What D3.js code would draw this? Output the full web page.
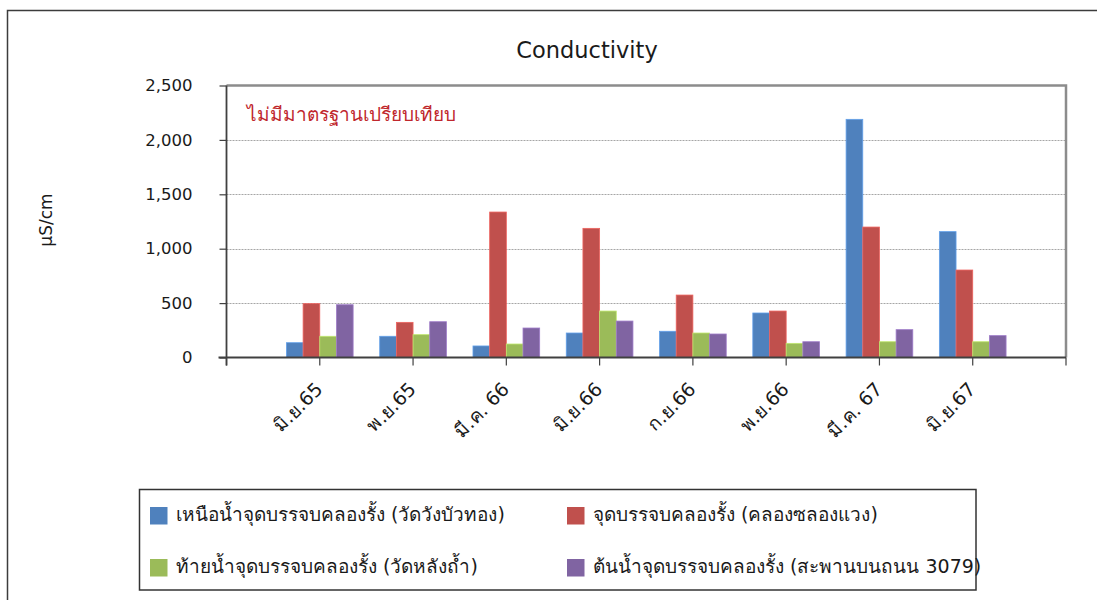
<!DOCTYPE html>
<html>
<head>
<meta charset="utf-8">
<script src="https://cdn.jsdelivr.net/npm/d3@7/dist/d3.min.js"></script>
<style>
  html, body { margin: 0; padding: 0; background: #fff; }
  svg { display: block; }
  text { font-family: "DejaVu Sans", "Noto Sans", sans-serif; fill: #1a1a1a; }
</style>
</head>
<body>
<svg id="chart" width="1097" height="600"></svg>
<script>
// Sampling rounds along คลองรั้ง
const months = ["มิ.ย.65", "พ.ย.65", "มี.ค. 66", "มิ.ย.66", "ก.ย.66", "พ.ย.66", "มี.ค. 67", "มิ.ย.67"];

// Conductivity (µS/cm) at each station
const upstreamWatWangBuaThong = [136, 195, 106, 225, 241, 409, 2189, 1157];
const confluenceKhlongSaLongWaeng = [495, 323, 1337, 1187, 574, 427, 1199, 804];
const downstreamWatLangTham = [195, 210, 124, 427, 225, 130, 145, 145];
const headwaterBridge3079 = [485, 329, 271, 335, 216, 145, 256, 201];

const seriesNames = [
  "เหนือน้ำจุดบรรจบคลองรั้ง (วัดวังบัวทอง)",
  "จุดบรรจบคลองรั้ง (คลองซลองแวง)",
  "ท้ายน้ำจุดบรรจบคลองรั้ง (วัดหลังถ้ำ)",
  "ต้นน้ำจุดบรรจบคลองรั้ง (สะพานบนถนน 3079)"
];
const seriesColors = ["#4F81BD", "#C0504D", "#9BBB59", "#8064A2"];
const yTicks = [0, 500, 1000, 1500, 2000, 2500];

const series = seriesNames.map((name, i) => ({
  name,
  color: seriesColors[i],
  values: [upstreamWatWangBuaThong, confluenceKhlongSaLongWaeng, downstreamWatLangTham, headwaterBridge3079][i]
}));

const svg = d3.select("#chart");

// outer frame (top and left edges)
svg.append("path")
  .attr("d", "M7.5,600 V10.5 H1097")
  .attr("fill", "none").attr("stroke", "#3c3c3c").attr("stroke-width", 1.5);

const plot = { left: 226.5, right: 1066, top: 85.5, bottom: 357.5 };

const x = d3.scalePoint().domain(months).range([plot.left, plot.right]).padding(1);
const groupWidth = x.step() * 0.715;
const inner = d3.scaleBand().domain(d3.range(series.length)).range([-groupWidth / 2, groupWidth / 2]);
const y = d3.scaleLinear().domain([0, 2500]).range([plot.bottom, plot.top]);

// dotted gridlines
svg.append("g").selectAll("line")
  .data(yTicks.filter(t => t > 0 && t < 2500))
  .join("line")
  .attr("x1", plot.left).attr("x2", plot.right)
  .attr("y1", d => Math.round(y(d)) + 0.5).attr("y2", d => Math.round(y(d)) + 0.5)
  .attr("stroke", "#a6a6a6").attr("stroke-width", 1).attr("stroke-dasharray", "2,1");

// plot-area border (top and right)
svg.append("path")
  .attr("d", `M${plot.left},${plot.top} H${plot.right} V${plot.bottom}`)
  .attr("fill", "none").attr("stroke", "#8c8c8c").attr("stroke-width", 2.5);

// bars
const groups = svg.append("g").selectAll("g")
  .data(months)
  .join("g")
  .attr("transform", d => `translate(${x(d)},0)`);

groups.selectAll("rect")
  .data((m, mi) => series.map((s, si) => ({ si, v: s.values[mi], color: s.color })))
  .join("rect")
  .attr("x", d => inner(d.si))
  .attr("width", inner.bandwidth())
  .attr("y", d => y(d.v))
  .attr("height", d => y(0) - y(d.v))
  .attr("fill", d => d.color)
  .attr("stroke", d => d3.color(d.color).brighter(0.6))
  .attr("stroke-width", 0.8);

// y axis
const yAxis = svg.append("g")
  .attr("transform", `translate(${plot.left},0)`)
  .call(d3.axisLeft(y).tickValues(yTicks).tickSize(7).tickPadding(27).tickFormat(d3.format(",")));
yAxis.select(".domain").attr("stroke", "#404040").attr("stroke-width", 1.8)
  .attr("d", `M0,${plot.top}V${plot.bottom + 8}`);
yAxis.selectAll(".tick line").attr("stroke", "#404040").attr("stroke-width", 1.2);
yAxis.selectAll(".tick text").style("font-size", "16.5px").attr("fill", "#1a1a1a");

// x axis: ticks at each category plus both ends
const xAxis = svg.append("g").attr("transform", `translate(0,${plot.bottom})`);
xAxis.append("line")
  .attr("x1", plot.left - 8).attr("x2", plot.right)
  .attr("stroke", "#404040").attr("stroke-width", 1.8);
xAxis.selectAll("line.tk")
  .data([plot.left, ...months.map(m => x(m)), plot.right])
  .join("line").attr("class", "tk")
  .attr("x1", d => d).attr("x2", d => d)
  .attr("y1", 0).attr("y2", 8)
  .attr("stroke", "#404040").attr("stroke-width", 1.2);
xAxis.selectAll("text")
  .data(months)
  .join("text")
  .attr("transform", d => `translate(${x(d) + 4},${33}) rotate(-45)`)
  .attr("text-anchor", "end")
  .style("font-size", "19px")
  .text(d => d);

// title
svg.append("text")
  .attr("x", 587).attr("y", 58)
  .attr("text-anchor", "middle")
  .style("font-size", "22.5px")
  .text("Conductivity");

// y-axis label
svg.append("text")
  .attr("transform", "translate(52,220) rotate(-90)")
  .attr("text-anchor", "middle")
  .style("font-size", "17px")
  .text("µS/cm");

// note inside the plot
svg.append("text")
  .attr("x", 247).attr("y", 121)
  .style("font-size", "19px")
  .style("fill", "#C0272D")
  .text("ไม่มีมาตรฐานเปรียบเทียบ");

// legend
const legend = svg.append("g");
legend.append("rect")
  .attr("x", 139.5).attr("y", 489.5).attr("width", 836.5).attr("height", 100.5)
  .attr("fill", "#fff").attr("stroke", "#333").attr("stroke-width", 1.5);
const legendPos = [[150, 507], [567, 507], [150, 559], [567, 559]];
const items = legend.selectAll("g.item")
  .data(series)
  .join("g").attr("class", "item")
  .attr("transform", (d, i) => `translate(${legendPos[i][0]},${legendPos[i][1]})`);
items.append("rect").attr("width", 17.5).attr("height", 17.5).attr("fill", d => d.color);
items.append("text")
  .attr("x", 26).attr("y", 14)
  .style("font-size", "19px")
  .text(d => d.name);
</script>
</body>
</html>
